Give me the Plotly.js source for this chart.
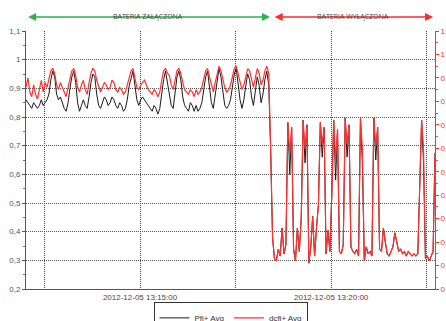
<!DOCTYPE html>
<html><head><meta charset="utf-8">
<script src="https://cdn.plot.ly/plotly-3.0.1.min.js"></script>
<style>html,body{margin:0;padding:0;background:#fff}#chart{width:446px;height:321px}</style>
</head><body><div id="chart"></div>
<script>
const startTime = '2012-12-05 13:12:01';
const stepSeconds = 3;
const seriesNames = ['Pfi+ Avg', 'dcfi+ Avg'];
// Pfi+ Avg (left axis)
const pfiAvg = [
0.86,0.85,0.84,0.83,0.85,0.84,0.83,0.84,0.86,0.84,
0.85,0.86,0.88,0.93,0.96,0.94,0.88,0.86,0.87,0.85,
0.83,0.82,0.85,0.90,0.94,0.96,0.92,0.85,0.82,0.84,
0.86,0.84,0.83,0.87,0.92,0.95,0.94,0.88,0.84,0.83,
0.85,0.87,0.86,0.84,0.85,0.87,0.86,0.84,0.83,0.85,
0.84,0.82,0.83,0.86,0.91,0.94,0.96,0.91,0.86,0.84,
0.86,0.87,0.86,0.85,0.84,0.83,0.82,0.84,0.83,0.81,
0.83,0.88,0.93,0.96,0.92,0.88,0.84,0.83,0.89,0.94,
0.96,0.93,0.87,0.84,0.83,0.82,0.85,0.84,0.82,0.84,
0.82,0.83,0.85,0.90,0.94,0.96,0.91,0.85,0.83,0.88,
0.93,0.97,0.94,0.88,0.84,0.83,0.84,0.86,0.90,0.95,
0.97,0.92,0.86,0.83,0.86,0.91,0.95,0.93,0.87,0.84,
0.89,0.94,0.91,0.85,0.88,0.93,0.96,0.91,
0.691,0.380,0.306,0.298,0.339,0.315,0.413,0.323,0.355,0.781,
0.600,0.764,0.339,0.298,0.413,0.331,0.445,0.789,0.640,0.773,
0.290,0.347,0.454,0.315,0.413,0.494,0.781,0.660,0.764,0.323,
0.404,0.331,0.527,0.789,0.580,0.756,0.331,0.323,0.355,0.797,
0.660,0.773,0.347,0.331,0.323,0.339,0.315,0.797,0.640,0.298,
0.347,0.323,0.331,0.315,0.797,0.650,0.764,0.339,0.331,0.413,
0.364,0.323,0.315,0.331,0.347,0.396,0.364,0.331,0.339,0.323,
0.331,0.315,0.331,0.323,0.315,0.323,0.315,0.323,0.568,0.789,
0.640,0.306,0.315,0.298,0.315,0.331,0.674
];
// dcfi+ Avg (right axis)
const dcfiAvg = [
0.86,0.90,0.84,0.82,0.87,0.83,0.81,0.85,0.89,0.84,
0.88,0.86,0.90,0.93,0.94,0.92,0.87,0.85,0.88,0.86,
0.84,0.82,0.86,0.90,0.93,0.94,0.91,0.86,0.84,0.87,
0.89,0.85,0.83,0.88,0.92,0.94,0.93,0.89,0.86,0.84,
0.86,0.88,0.87,0.85,0.86,0.89,0.88,0.85,0.84,0.86,
0.85,0.83,0.84,0.87,0.91,0.93,0.94,0.90,0.86,0.85,
0.87,0.88,0.89,0.87,0.85,0.84,0.83,0.85,0.84,0.82,
0.84,0.89,0.93,0.94,0.92,0.91,0.87,0.85,0.89,0.93,
0.94,0.92,0.88,0.85,0.84,0.83,0.85,0.84,0.82,0.85,
0.83,0.84,0.86,0.90,0.93,0.94,0.91,0.87,0.84,0.88,
0.92,0.95,0.93,0.89,0.86,0.84,0.85,0.87,0.90,0.94,
0.95,0.92,0.88,0.85,0.87,0.91,0.94,0.93,0.89,0.86,
0.90,0.94,0.92,0.87,0.89,0.93,0.95,0.92,
0.60,0.22,0.13,0.12,0.17,0.14,0.26,0.15,0.19,0.71,
0.58,0.69,0.17,0.12,0.26,0.16,0.30,0.72,0.60,0.70,
0.11,0.18,0.31,0.14,0.26,0.36,0.71,0.62,0.69,0.15,
0.25,0.16,0.40,0.72,0.55,0.68,0.16,0.15,0.19,0.73,
0.62,0.70,0.18,0.16,0.15,0.17,0.14,0.73,0.60,0.12,
0.18,0.15,0.16,0.14,0.73,0.61,0.69,0.17,0.16,0.26,
0.20,0.15,0.14,0.16,0.18,0.24,0.20,0.16,0.17,0.15,
0.16,0.14,0.16,0.15,0.14,0.15,0.14,0.15,0.45,0.72,
0.60,0.13,0.14,0.12,0.14,0.16,0.58
];
const xTickVals = ['2012-12-05 13:12:30','2012-12-05 13:15:00','2012-12-05 13:17:30','2012-12-05 13:20:00','2012-12-05 13:22:30'];
const xTickText = ['', '2012-12-05 13:15:00', '', '2012-12-05 13:20:00', ''];
const xRange = ['2012-12-05 13:12:01', '2012-12-05 13:22:43'];
const phaseLabels = ['BATERIA ZAŁĄCZONA', 'BATERIA WYŁĄCZONA'];
const phaseStart = ['2012-12-05 13:12:02', '2012-12-05 13:18:29'];
const phaseEnd = ['2012-12-05 13:18:24', '2012-12-05 13:22:40'];
const phaseMid = ['2012-12-05 13:15:13', '2012-12-05 13:20:35'];

function pad(n){return (n<10?'0':'')+n;}
function timeAt(i){
  const base = startTime.split(' ');
  const hms = base[1].split(':').map(Number);
  let s = hms[0]*3600 + hms[1]*60 + hms[2] + i*stepSeconds;
  const h = Math.floor(s/3600); s -= h*3600;
  const m = Math.floor(s/60); s -= m*60;
  return base[0] + ' ' + pad(h) + ':' + pad(m) + ':' + pad(s);
}
const times = pfiAvg.map((_, i) => timeAt(i));

const traces = [
  {x: times, y: pfiAvg, name: seriesNames[0], type: 'scatter', mode: 'lines',
   line: {color: '#1a1a1a', width: 1}, yaxis: 'y'},
  {x: times, y: dcfiAvg, name: seriesNames[1], type: 'scatter', mode: 'lines',
   line: {color: '#ff3030', width: 1.2}, yaxis: 'y2'}
];
const phaseColors = ['#2db34a', '#ff2a2a'];
const annotations = [];
for (let k = 0; k < 2; k++) {
  annotations.push({xref: 'x', yref: 'paper', x: phaseEnd[k], y: 1.054,
    axref: 'x', ayref: 'pixel', ax: phaseStart[k], ay: 0,
    showarrow: true, arrowside: 'end+start', arrowhead: 2, arrowsize: 1,
    arrowwidth: 1.6, arrowcolor: phaseColors[k], text: ''});
  annotations.push({xref: 'x', yref: 'paper', x: phaseMid[k], y: 1.08,
    showarrow: false, text: phaseLabels[k],
    font: {family: 'Open Sans, Arial', size: 7, color: '#444'}});
}
const layout = {
  width: 446, height: 321,
  margin: {l: 26, r: 11, t: 31, b: 32},
  paper_bgcolor: '#fff', plot_bgcolor: '#fff',
  separators: ',.',
  font: {family: 'Arial, Liberation Sans', size: 8, color: '#555'},
  showlegend: true,
  legend: {orientation: 'h', xref: 'paper', x: 0.5, xanchor: 'center',
    yref: 'container', y: 0.058, yanchor: 'top',
    bordercolor: '#333', borderwidth: 1, bgcolor: '#fff', itemwidth: 30,
    font: {size: 8, color: '#333'}},
  xaxis: {type: 'date', range: xRange, tickmode: 'array', tickvals: xTickVals, ticktext: xTickText,
    showgrid: true, gridcolor: '#8b2a2a', griddash: '1px,1px', gridwidth: 1,
    showline: true, linecolor: '#555', linewidth: 1, ticks: '', zeroline: false,
    tickfont: {size: 8, color: '#7a3030'}},
  yaxis: {range: [0.2, 1.1], dtick: 0.1, tick0: 0.2, showgrid: true, gridcolor: '#555', griddash: '1px,1px',
    showline: true, linecolor: '#555', ticks: 'outside', ticklen: 3, tickcolor: '#555',
    minor: {dtick: 0.05, ticks: 'outside', ticklen: 2, tickcolor: '#777', showgrid: false},
    zeroline: false, tickfont: {size: 8, color: '#555'}},
  yaxis2: {range: [0, 1.1], dtick: 0.1, tick0: 0, overlaying: 'y', side: 'right', showgrid: false,
    showline: true, linecolor: '#ff3030', ticks: 'outside', ticklen: 3, tickcolor: '#ff3030',
    minor: {dtick: 0.05, ticks: 'outside', ticklen: 2, tickcolor: '#ff5050'},
    zeroline: false, tickfont: {size: 8, color: '#ff3030'}},
  annotations: annotations
};
Plotly.newPlot('chart', traces, layout, {staticPlot: true, displayModeBar: false});
</script></body></html>
